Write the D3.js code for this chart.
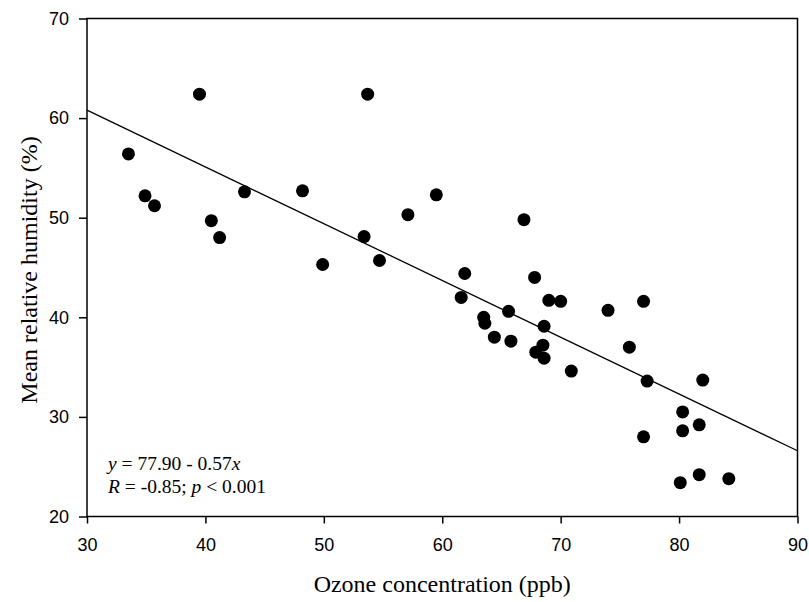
<!DOCTYPE html>
<html>
<head>
<meta charset="utf-8">
<script src="https://cdn.jsdelivr.net/npm/d3@7"></script>
<style>
  body { margin: 0; background: #fff; }
  svg { display: block; }
</style>
</head>
<body>
<svg id="chart" width="809" height="602"></svg>
<script>
// ozone (ppb) vs mean relative humidity (%)
var ozone = [33.5, 34.9, 35.7, 39.5, 40.5, 41.2, 43.3, 48.2, 49.9, 53.7, 53.4, 54.7,
             59.5, 57.1, 66.9, 61.9, 61.6, 67.8, 69.0, 70.0, 65.6, 63.5, 63.6, 68.6,
             64.4, 65.8, 68.5, 67.9, 68.6, 70.9, 74.0, 77.0, 75.8, 77.3, 82.0, 80.3,
             80.3, 81.7, 77.0, 80.1, 81.7, 84.2];
var humidity = [56.4, 52.2, 51.2, 62.4, 49.7, 48.0, 52.6, 52.7, 45.3, 62.4, 48.1, 45.7,
                52.3, 50.3, 49.8, 44.4, 42.0, 44.0, 41.7, 41.6, 40.6, 40.0, 39.4, 39.1,
                38.0, 37.6, 37.2, 36.5, 35.9, 34.6, 40.7, 41.6, 37.0, 33.6, 33.7, 30.5,
                28.6, 29.2, 28.0, 23.4, 24.2, 23.8];

var xTicks = [30, 40, 50, 60, 70, 80, 90];
var yTicks = [20, 30, 40, 50, 60, 70];

// regression: y = a + b x
var fitA = 77.90, fitB = -0.57;

var svg = d3.select("#chart"),
    margin = {top: 18.5, right: 12, bottom: 85, left: 87},
    width = 797.5 - margin.left,
    height = 516.5 - margin.top;

var x = d3.scaleLinear().domain([30, 90]).range([0, width]);
var y = d3.scaleLinear().domain([20, 70]).range([height, 0]);

var g = svg.append("g")
    .attr("transform", "translate(" + margin.left + "," + margin.top + ")");

// frame
g.append("rect")
    .attr("width", width)
    .attr("height", height)
    .attr("fill", "none")
    .attr("stroke", "#000")
    .attr("stroke-width", 1.5);

var xAxis = g.append("g")
    .attr("transform", "translate(0," + height + ")")
    .call(d3.axisBottom(x).tickValues(xTicks).tickSize(7).tickPadding(15));

var yAxis = g.append("g")
    .call(d3.axisLeft(y).tickValues(yTicks).tickSize(8).tickPadding(10));

[xAxis, yAxis].forEach(function(ax) {
  ax.select(".domain").remove();
  ax.selectAll(".tick line").attr("stroke", "#000").attr("stroke-width", 1.5);
  ax.selectAll(".tick text")
      .attr("fill", "#000")
      .style("font-family", "'Liberation Sans', Arial, sans-serif")
      .style("font-size", "18px");
});

// regression line
g.append("line")
    .attr("x1", x(30)).attr("y1", y(fitA + fitB * 30))
    .attr("x2", x(90)).attr("y2", y(fitA + fitB * 90))
    .attr("stroke", "#000")
    .attr("stroke-width", 1.3);

// points
g.selectAll("circle")
  .data(ozone)
  .enter().append("circle")
    .attr("cx", function(d) { return x(d); })
    .attr("cy", function(d, i) { return y(humidity[i]); })
    .attr("r", 6.5)
    .attr("fill", "#000");

// equation text
var serif = "'Liberation Serif', 'Times New Roman', serif";
var eq = g.append("text")
    .attr("x", 21)
    .attr("y", 451.5)
    .style("font-family", serif)
    .style("font-size", "19.5px");
eq.append("tspan").style("font-style", "italic").text("y");
eq.append("tspan").text(" = 77.90 - 0.57");
eq.append("tspan").style("font-style", "italic").text("x");

var rt = g.append("text")
    .attr("x", 21)
    .attr("y", 474)
    .style("font-family", serif)
    .style("font-size", "19.5px");
rt.append("tspan").style("font-style", "italic").text("R");
rt.append("tspan").text(" = -0.85; ");
rt.append("tspan").style("font-style", "italic").text("p");
rt.append("tspan").text(" < 0.001");

// axis titles
svg.append("text")
    .attr("x", margin.left + width / 2)
    .attr("y", 592)
    .attr("text-anchor", "middle")
    .style("font-family", serif)
    .style("font-size", "24px")
    .text("Ozone concentration (ppb)");

svg.append("text")
    .attr("transform", "translate(37,270) rotate(-90)")
    .attr("text-anchor", "middle")
    .style("font-family", serif)
    .style("font-size", "24px")
    .text("Mean relative humidity (%)");
</script>
</body>
</html>
